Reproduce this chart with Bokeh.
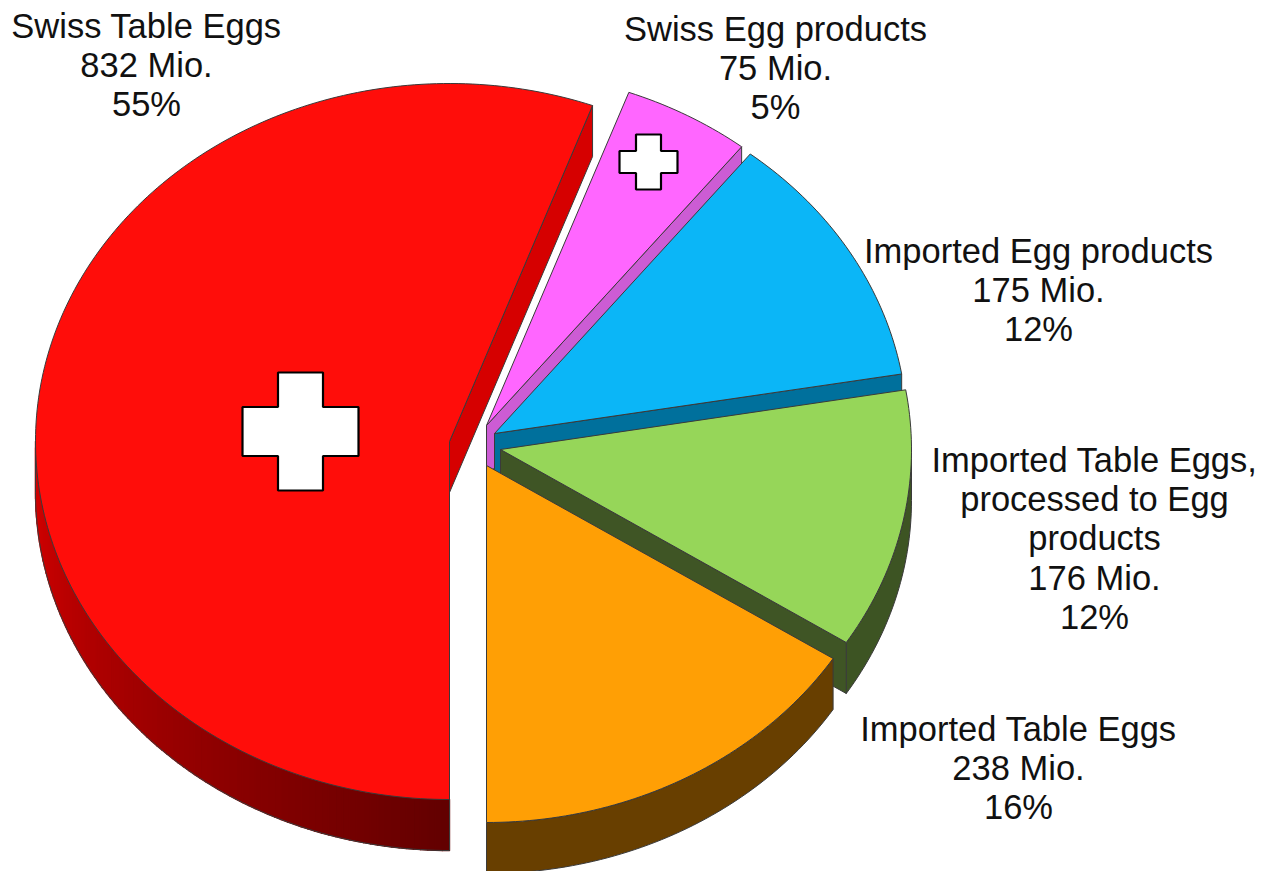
import math
from bokeh.embed import file_html
from bokeh.resources import INLINE
from bokeh.plotting import figure
from bokeh.models import Range1d
from bokeh.core.properties import value

categories = ["Swiss Table Eggs", "Swiss Egg products", "Imported Egg products",
              "Imported Table Eggs, processed to Egg products", "Imported Table Eggs"]
label_lines = [["Swiss Table Eggs"], ["Swiss Egg products"], ["Imported Egg products"],
               ["Imported Table Eggs,", "processed to Egg", "products"], ["Imported Table Eggs"]]
values_mio = [832, 75, 175, 176, 238]
percents = [55, 5, 12, 12, 16]
top_colors = ["#FF0D0A", "#FF66FF", "#0BB6F7", "#96D659", "#FF9F05"]
cut_colors = ["#D60000", "#CC5CD4", "#00709C", "#3F5525", "#6B4000"]
wall_near = ["#620000", "#8A3C8E", "#00506E", "#3D5423", "#683F00"]
wall_far = ["#D60000", "#CC5CD4", "#00709C", "#435B24", "#683F00"]

# layout
apex = [(449, 441), (486, 425), (494, 433), (500, 449), (486, 465)]
radii_x = [414, 412, 413, 411, 412]
radii_y = [358, 355, 356, 357, 357]
DEPTH = 51
label_x = [146, 775, 1038, 1094, 1018]
label_y = [25, 28, 250, 459, 728]
LINE_H = 39.4
W, H = 1266, 871

p = figure(width=W, height=H, output_backend="svg", toolbar_location=None,
           x_range=Range1d(0, W), y_range=Range1d(H, 0),
           min_border=0, outline_line_color=None, background_fill_color="white")
p.xaxis.visible = False
p.yaxis.visible = False
p.grid.visible = False

total = sum(values_mio)
angles = [180.0]
for v in values_mio:
    angles.append(angles[-1] + v / total * 360)


def arc(i, a0, a1, dy=0):
    c, rx, ry = apex[i], radii_x[i], radii_y[i]
    n = max(2, int(abs(a1 - a0)) + 1)
    pts = []
    for k in range(n):
        t = math.radians(a0 + (a1 - a0) * k / (n - 1))
        pts.append((c[0] + rx * math.sin(t), c[1] - ry * math.cos(t) + dy))
    return pts


def mix(c0, c1, f):
    a = [int(c0[i:i + 2], 16) for i in (1, 3, 5)]
    b = [int(c1[i:i + 2], 16) for i in (1, 3, 5)]
    return "#%02x%02x%02x" % tuple(round(a[i] + (b[i] - a[i]) * f) for i in range(3))


def poly(points, fill, line="#3A3A3A", width=1.0):
    p.patch([q[0] for q in points], [q[1] for q in points], fill_color=fill,
            line_color=line if line else fill, line_width=width, line_join="round")


# painter's order: back to front
for i in range(5):
    c = apex[i]
    a0, a1 = angles[i], angles[i + 1]
    # visible outer wall: lower half of the ellipse only
    lo, hi = None, None
    for rng in ((a0, a1), (a0 - 360, a1 - 360)):
        l, h = max(rng[0], 90), min(rng[1], 270)
        if l < h:
            lo, hi = l, h
    if lo is not None:
        if wall_near[i] == wall_far[i] or hi - lo < 70:
            poly(arc(i, lo, hi) + arc(i, hi, lo, DEPTH), wall_near[i], width=1.0)
        else:
            a = lo
            while a < hi:
                b = min(a + 1.0, hi)
                f = abs((a + b) / 2 - 180) / 90
                poly(arc(i, a, b) + arc(i, b, a, DEPTH), mix(wall_near[i], wall_far[i], f),
                     line=None, width=1.4)
                a = b
            edge = arc(i, hi, hi) + arc(i, hi, lo, DEPTH) + arc(i, lo, lo)[:1]
            p.line([q[0] for q in edge], [q[1] for q in edge], line_color="#3A3A3A", line_width=1.0)
    # cut face at the clockwise end of the slice
    if (a1 % 360) <= 180 and i != 4:
        e = arc(i, a1, a1)[0]
        poly([c, e, (e[0], e[1] + DEPTH), (c[0], c[1] + DEPTH)], cut_colors[i])
    # top face
    poly([c] + arc(i, a0, a1), top_colors[i])


def cross(cx, cy, w, h, aw, ah):
    xs = [-aw, aw, aw, w, w, aw, aw, -aw, -aw, -w, -w, -aw]
    ys = [-h, -h, -ah, -ah, ah, ah, h, h, ah, ah, -ah, -ah]
    p.patch([cx + x for x in xs], [cy + y for y in ys], fill_color="white",
            line_color="black", line_width=2.2)


cross(300, 431, 58, 59, 22.5, 24.5)
cross(648, 161.5, 29, 27.5, 12.5, 11)

# labels
xs, ys, texts = [], [], []
for i in range(len(categories)):
    lines = label_lines[i] + [f"{values_mio[i]} Mio.", f"{percents[i]}%"]
    for j, t in enumerate(lines):
        xs.append(label_x[i])
        ys.append(label_y[i] + j * LINE_H)
        texts.append(t)
p.text(xs, ys, text=texts, text_font=value("Liberation Sans"), text_font_size="34.5px",
       text_align="center", text_baseline="middle", text_color="#111111")

open("out.html", "w").write(file_html(p, INLINE))
